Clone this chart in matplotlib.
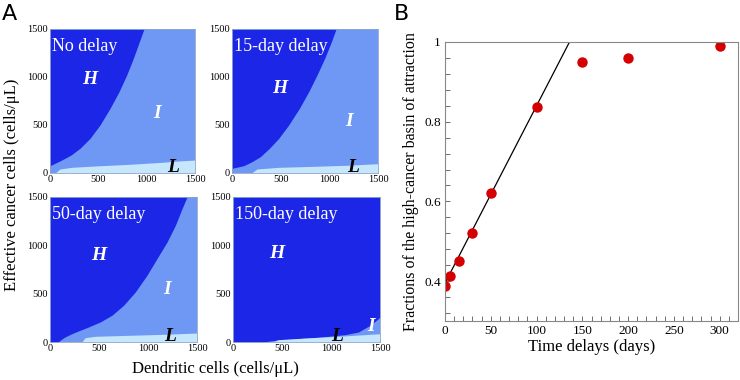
import matplotlib.pyplot as plt
import numpy as np
from matplotlib.ticker import MultipleLocator

plt.rcParams['font.family'] = ['Liberation Serif', 'DejaVu Serif']

# colours of the three basins
col_h = '#1c26e6'
col_i = '#6f98f4'
col_l = '#c6e6fb'

# panel A: region boundaries
titles = ['No delay', '15-day delay', '50-day delay', '150-day delay']

# H boundary (x of the curve for a given y), H lies to the left
h_y = [
    [0, 76, 101, 135, 187, 257, 361, 500, 673, 847, 1020, 1194, 1367, 1500],
    [0, 49, 76, 118, 170, 257, 361, 500, 673, 847, 1020, 1194, 1367, 1500],
    [0, 17, 52, 86, 121, 155, 207, 276, 379, 517, 690, 862, 1034, 1207, 1379, 1500],
    [0, 17, 34, 52, 76, 103, 172, 241, 259, 1500],
]
h_x = [
    [0, 0, 52, 121, 217, 310, 414, 517, 621, 714, 793, 862, 924, 972],
    [0, 0, 120, 205, 291, 384, 480, 582, 692, 788, 873, 952, 1021, 1069],
    [85, 102, 153, 222, 307, 392, 512, 631, 750, 870, 989, 1091, 1194, 1279, 1347, 1398],
    [310, 426, 665, 904, 1142, 1279, 1398, 1483, 1500, 1500],
]

# L boundary (y of the curve for a given x), L lies below
l_x = [
    [52, 103, 224, 466, 810, 1155, 1328, 1500],
    [199, 257, 480, 822, 1165, 1500],
    [324, 358, 460, 801, 1142, 1500],
    [409, 460, 733, 1074, 1347, 1500],
]
l_y = [
    [0, 42, 59, 73, 90, 111, 125, 135],
    [0, 42, 59, 69, 80, 97],
    [0, 45, 59, 69, 79, 93],
    [0, 24, 41, 59, 76, 86],
]

# label positions (H, I, L) in data units
lab_h = [(414, 970), (492, 880), (501, 894), (450, 918)]
lab_i = [(1103, 624), (1197, 532), (1195, 547), (1408, 160)]
lab_l = [(1276, 62), (1239, 58), (1229, 62), (1060, 62)]

# panel B data
delays = [0, 5, 15, 30, 50, 100, 150, 200, 300]
fractions = [0.389, 0.412, 0.450, 0.520, 0.620, 0.837, 0.950, 0.961, 0.990]
fit_x = [0, 140]
fit_y = [0.395, 1.018]

fig = plt.figure(figsize=(7.4, 3.8), dpi=100)

boxes = [
    [50/740, 207/380, 145/740, 144/380],
    [232/740, 207/380, 146/740, 144/380],
    [50/740, 38/380, 147/740, 145/380],
    [233/740, 38/380, 147/740, 145/380],
]

for k in range(4):
    ax = fig.add_axes(boxes[k])
    ax.set_facecolor(col_i)
    ax.fill_betweenx(h_y[k], 0, h_x[k], color=col_h, lw=0)
    ax.fill_between(l_x[k], 0, l_y[k], color=col_l, lw=0)
    ax.set_xlim(0, 1500)
    ax.set_ylim(0, 1500)
    ax.set_xticks([0, 500, 1000, 1500])
    ax.set_yticks([0, 500, 1000, 1500])
    ax.tick_params(length=0, labelsize=7.5, pad=1.5)
    for s in ax.spines.values():
        s.set_color('#8fa6c8')
        s.set_linewidth(0.6)
    ax.text(25, 1320, titles[k], color='white', fontsize=13, va='center', ha='left')
    ax.text(lab_h[k][0], lab_h[k][1], 'H', color='white', fontsize=14,
            fontweight='bold', style='italic', ha='center', va='center')
    ax.text(lab_i[k][0], lab_i[k][1], 'I', color='white', fontsize=14,
            fontweight='bold', style='italic', ha='center', va='center')
    ax.text(lab_l[k][0], lab_l[k][1], 'L', color='black', fontsize=14,
            fontweight='bold', style='italic', ha='center', va='center')

fig.text(12/740, 1 - 185/380, 'Effective cancer cells (cells/\u03bcL)', rotation=90,
         ha='center', va='center', fontsize=12)
fig.text(215/740, 1 - 369/380, 'Dendritic cells (cells/\u03bcL)',
         ha='center', va='center', fontsize=12)

fig.text(9/740, 1 - 14/380, 'A', fontsize=16, family='DejaVu Sans', ha='center', va='center')
fig.text(402/740, 1 - 14/380, 'B', fontsize=16, family='DejaVu Sans', ha='center', va='center')

axb = fig.add_axes([445/740, 59/380, 293/740, 279/380])
axb.plot(fit_x, fit_y, color='black', lw=0.9)
axb.plot(delays, fractions, 'o', color='#d40000', ms=6.5, mec='#d40000')
axb.set_xlim(0, 320)
axb.set_ylim(0.3, 1.0)
axb.set_xticks([0, 50, 100, 150, 200, 250, 300])
axb.set_yticks([0.4, 0.6, 0.8, 1.0])
axb.set_yticklabels(['0.4', '0.6', '0.8', '1'])
axb.xaxis.set_minor_locator(MultipleLocator(10))
axb.yaxis.set_minor_locator(MultipleLocator(0.04))
axb.tick_params(which='both', direction='in', length=3.5, width=0.6, color='#555555', labelsize=9.5, pad=3)
for s in axb.spines.values():
    s.set_color('#888888')
    s.set_linewidth(0.8)
axb.set_xlabel('Time delays (days)', fontsize=12, labelpad=1)
axb.set_ylabel('Fractions of the high-cancer basin of attraction', fontsize=11.5, labelpad=4)

fig.savefig('out.png', dpi=100)
